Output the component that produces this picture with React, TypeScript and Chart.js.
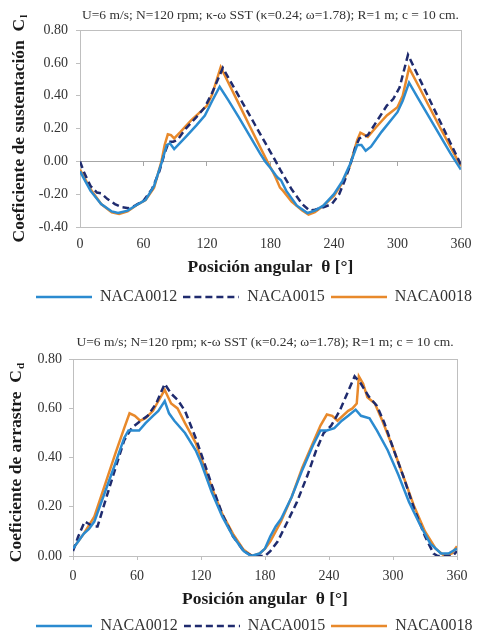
import React, { useEffect, useRef } from 'react';
import { Chart, registerables } from 'chart.js';

Chart.register(...registerables);
Chart.defaults.font.family = '"Liberation Serif", "Times New Roman", serif';

// ---------- Data ----------
const CHART_TITLE = 'U=6 m/s; N=120 rpm; κ-ω SST (κ=0.24; ω=1.78); R=1 m; c = 10 cm.';
const SERIES_NAMES = ['NACA0012', 'NACA0015', 'NACA0018'];
const X_TICKS = [0, 60, 120, 180, 240, 300, 360];
const LIFT_Y_TICKS = [-0.4, -0.2, 0, 0.2, 0.4, 0.6, 0.8];
const DRAG_Y_TICKS = [0, 0.2, 0.4, 0.6, 0.8];
const X_TITLE = 'Posición angular  θ [°]';
const LIFT_Y_TITLE = 'Coeficiente de sustentación  C';
const LIFT_Y_SUB = 'l';
const DRAG_Y_TITLE = 'Coeficiente de arrastre  C';
const DRAG_Y_SUB = 'd';

// Lift coefficient (top chart)
const liftTheta12 = [0, 5, 10, 20, 30, 36, 45, 55, 62, 70, 77, 82, 85, 89, 100, 110, 118, 125, 132, 140, 150, 160, 170, 175, 180, 185, 187, 190, 195, 205, 215, 222, 230, 240, 248, 255, 258, 262, 266, 270, 275, 285, 295, 300, 305, 311, 320, 330, 340, 350, 360];
const lift12 = [-0.06, -0.12, -0.18, -0.26, -0.305, -0.315, -0.3, -0.26, -0.235, -0.15, -0.01, 0.1, 0.11, 0.075, 0.15, 0.22, 0.28, 0.37, 0.455, 0.375, 0.27, 0.16, 0.05, 0.0, -0.04, -0.085, -0.1, -0.115, -0.18, -0.27, -0.315, -0.3, -0.27, -0.2, -0.12, -0.02, 0.03, 0.1, 0.1, 0.065, 0.09, 0.18, 0.26, 0.3, 0.37, 0.48, 0.38, 0.27, 0.16, 0.05, -0.05];

const liftTheta15 = [0, 4, 10, 16, 20, 26, 33, 40, 46, 52, 60, 68, 75, 80, 84, 88, 92, 100, 110, 118, 125, 135, 145, 155, 165, 175, 180, 185, 190, 200, 210, 217, 222, 230, 238, 245, 250, 255, 260, 264, 268, 272, 280, 290, 296, 302, 310, 320, 330, 340, 350, 360];
const lift15 = [0.0, -0.07, -0.15, -0.19, -0.195, -0.23, -0.26, -0.28, -0.285, -0.27, -0.24, -0.17, -0.06, 0.05, 0.12, 0.12, 0.13, 0.2, 0.27, 0.33, 0.42, 0.57, 0.456, 0.342, 0.228, 0.114, 0.057, 0.0, -0.06, -0.17, -0.26, -0.3, -0.295, -0.28, -0.26, -0.2, -0.12, -0.03, 0.08, 0.14, 0.15, 0.16, 0.24, 0.34, 0.38, 0.45, 0.65, 0.516, 0.382, 0.248, 0.114, -0.02];

const liftTheta18 = [0, 5, 10, 20, 30, 37, 45, 55, 62, 70, 77, 80, 83, 86, 89, 95, 105, 115, 120, 125, 133, 140, 150, 160, 170, 177, 182, 185, 189, 192, 200, 210, 216, 222, 230, 240, 248, 255, 258, 262, 265, 268, 272, 280, 290, 300, 305, 311, 320, 330, 340, 350, 360];
const lift18 = [-0.05, -0.11, -0.17, -0.26, -0.31, -0.32, -0.305, -0.26, -0.235, -0.16, 0.0, 0.1, 0.165, 0.16, 0.14, 0.18, 0.25, 0.31, 0.34, 0.41, 0.575, 0.483, 0.352, 0.22, 0.09, 0.0, -0.06, -0.1, -0.16, -0.18, -0.245, -0.3, -0.325, -0.31, -0.27, -0.21, -0.13, -0.03, 0.04, 0.13, 0.175, 0.165, 0.15, 0.21, 0.28, 0.33, 0.4, 0.57, 0.46, 0.335, 0.21, 0.09, -0.03];

// Drag coefficient (bottom chart)
const dragTheta12 = [0, 5, 10, 15, 20, 30, 40, 48, 52, 58, 62, 68, 75, 80, 86, 90, 95, 105, 115, 120, 130, 140, 150, 160, 167, 175, 180, 185, 190, 195, 205, 215, 225, 232, 238, 245, 252, 258, 265, 270, 278, 285, 295, 305, 315, 325, 335, 345, 352, 360];
const drag12 = [0.03, 0.06, 0.09, 0.11, 0.14, 0.26, 0.38, 0.48, 0.51, 0.51, 0.51, 0.54, 0.57, 0.59, 0.63, 0.58, 0.55, 0.5, 0.43, 0.38, 0.26, 0.16, 0.08, 0.02, 0.0, 0.01, 0.03, 0.08, 0.12, 0.15, 0.24, 0.35, 0.45, 0.51, 0.51, 0.52, 0.55, 0.57, 0.595, 0.57, 0.56, 0.51, 0.43, 0.33, 0.22, 0.13, 0.05, 0.01, 0.01, 0.03];

const dragTheta15 = [0, 5, 11, 15, 19, 23, 30, 40, 48, 55, 62, 70, 78, 86, 92, 98, 105, 115, 123, 130, 140, 150, 160, 168, 175, 180, 185, 192, 200, 210, 220, 228, 235, 242, 250, 258, 264, 270, 277, 285, 292, 300, 310, 320, 330, 338, 342, 350, 356, 360];
const drag15 = [0.02, 0.08, 0.14, 0.13, 0.12, 0.12, 0.22, 0.36, 0.47, 0.52, 0.545, 0.57, 0.62, 0.7, 0.66, 0.635, 0.59, 0.48, 0.38, 0.29, 0.17, 0.08, 0.02, 0.0, 0.0, 0.0, 0.02, 0.06, 0.13, 0.22, 0.33, 0.43, 0.5, 0.53, 0.59, 0.67, 0.73, 0.7, 0.65, 0.61, 0.54, 0.44, 0.32, 0.19, 0.08, 0.01, 0.0, 0.0, 0.0, 0.02];

const dragTheta18 = [0, 10, 20, 30, 40, 48, 53, 58, 63, 68, 75, 80, 86, 92, 98, 105, 115, 120, 130, 140, 150, 160, 168, 175, 180, 185, 190, 195, 205, 215, 225, 232, 238, 243, 248, 253, 258, 262, 266, 268, 272, 276, 283, 290, 300, 310, 320, 330, 340, 347, 355, 360];
const drag18 = [0.03, 0.09, 0.16, 0.29, 0.42, 0.52, 0.58, 0.57, 0.55, 0.56, 0.59, 0.63, 0.675, 0.62, 0.6, 0.54, 0.46, 0.4, 0.28, 0.17, 0.09, 0.025, 0.0, 0.01, 0.03, 0.06, 0.1, 0.14, 0.24, 0.36, 0.46, 0.53, 0.575, 0.57, 0.55, 0.57, 0.59, 0.6, 0.62, 0.73, 0.7, 0.645, 0.62, 0.55, 0.44, 0.32, 0.2, 0.1, 0.03, 0.005, 0.01, 0.04];

// ---------- Styling ----------
const COLORS = ['#2b8bd0', '#1f2b6e', '#e8892b'];
const DASHES: number[][] = [[], [7, 4], []];
const GRAY = '#bfbfbf';
const TEXT = '#333333';
const LEGEND_LINE_W = 56;

const zip = (t: number[], v: number[]) => t.map((x, i) => ({ x, y: v[i] }));

function lineImage(color: string, dash: number[]) {
  const c = document.createElement('canvas');
  c.width = LEGEND_LINE_W;
  c.height = 4;
  const g = c.getContext('2d');
  if (g) {
    g.strokeStyle = color;
    g.lineWidth = 2.5;
    g.setLineDash(dash);
    g.beginPath();
    g.moveTo(0, 2);
    g.lineTo(LEGEND_LINE_W, 2);
    g.stroke();
  }
  return c;
}

function makeDatasets(series: { x: number; y: number }[][]) {
  return series.map((data, i) => ({
    label: SERIES_NAMES[i],
    data,
    xAxisID: 'x',
    yAxisID: 'y',
    borderColor: COLORS[i],
    backgroundColor: COLORS[i],
    borderWidth: 2.5,
    borderDash: DASHES[i],
    pointRadius: 0,
    pointStyle: lineImage(COLORS[i], DASHES[i]),
    tension: 0,
    fill: false,
  }));
}

const boxPlugin = {
  id: 'plotBox',
  beforeDatasetsDraw(chart: any) {
    const { ctx, chartArea } = chart;
    ctx.save();
    ctx.strokeStyle = GRAY;
    ctx.lineWidth = 1;
    ctx.strokeRect(
      Math.round(chartArea.left) + 0.5,
      Math.round(chartArea.top) + 0.5,
      Math.round(chartArea.right - chartArea.left),
      Math.round(chartArea.bottom - chartArea.top)
    );
    ctx.restore();
  },
};

function yTitlePlugin(main: string, sub: string, cx: number, dy: number) {
  return {
    id: 'yTitleSub',
    afterDraw(chart: any) {
      const { ctx, chartArea } = chart;
      const mainFont = 'bold 17.5px "Liberation Serif", "Times New Roman", serif';
      const subFont = 'bold 11px "Liberation Serif", "Times New Roman", serif';
      ctx.save();
      ctx.font = mainFont;
      const w1 = ctx.measureText(main).width;
      ctx.font = subFont;
      const w2 = ctx.measureText(sub).width;
      const total = w1 + 1 + w2;
      const cy = (chartArea.top + chartArea.bottom) / 2 + dy;
      ctx.translate(cx, cy);
      ctx.rotate(-Math.PI / 2);
      ctx.fillStyle = '#1a1a1a';
      ctx.textAlign = 'left';
      ctx.textBaseline = 'middle';
      ctx.font = mainFont;
      ctx.fillText(main, -total / 2, 0);
      ctx.font = subFont;
      ctx.fillText(sub, -total / 2 + w1 + 1, 5);
      ctx.restore();
    },
  };
}

const setTicks = (vals: number[]) => (scale: any) => {
  scale.ticks = vals.map((value) => ({ value }));
};

const legendOptions = {
  position: 'bottom',
  labels: {
    usePointStyle: true,
    pointStyleWidth: LEGEND_LINE_W,
    padding: 6,
    color: TEXT,
    font: { size: 16 },
  },
};

const rightSpacer = (w: number) => ({
  type: 'linear',
  position: 'right',
  display: true,
  afterFit: (s: any) => { s.width = w; },
  ticks: { display: false },
  grid: { display: false },
  border: { display: false },
});

function liftConfig(): any {
  return {
    type: 'line',
    data: { datasets: makeDatasets([zip(liftTheta12, lift12), zip(liftTheta15, lift15), zip(liftTheta18, lift18)]) },
    options: {
      responsive: false,
      animation: false,
      devicePixelRatio: 1,
      layout: { padding: { left: 28, right: 0, top: 0, bottom: 0 } },
      plugins: {
        title: {
          display: true,
          text: CHART_TITLE,
          fullSize: false,
          color: TEXT,
          font: { size: 13.5, weight: 'normal' },
          padding: { top: 7, bottom: 7 },
        },
        legend: legendOptions,
        tooltip: { enabled: false },
      },
      scales: {
        x: {
          type: 'linear',
          position: 'bottom',
          min: 0,
          max: 360,
          afterBuildTicks: setTicks(X_TICKS),
          afterFit: (s: any) => { s.height = 56; },
          grid: { display: true, drawOnChartArea: false, drawTicks: false, color: GRAY },
          border: { display: true, color: GRAY },
          ticks: { padding: 8.6, color: TEXT, font: { size: 14 }, maxRotation: 0 },
          title: {
            display: true,
            text: X_TITLE,
            color: '#1a1a1a',
            font: { size: 17.5, weight: 'bold' },
            padding: { top: 0, bottom: 5.5 },
          },
        },
        xz: {
          type: 'linear',
          position: { y: 0 },
          min: 0,
          max: 360,
          afterBuildTicks: setTicks(X_TICKS),
          ticks: { display: false },
          grid: { display: true, drawOnChartArea: false, drawTicks: true, tickLength: 4, color: '#a6a6a6' },
          border: { display: true, color: '#a6a6a6' },
        },
        y: {
          type: 'linear',
          position: 'left',
          min: -0.4,
          max: 0.8,
          afterBuildTicks: setTicks(LIFT_Y_TICKS),
          afterFit: (s: any) => { s.width = 52; },
          grid: { display: true, drawOnChartArea: false, drawTicks: true, tickLength: 4, color: GRAY },
          border: { display: true, color: GRAY },
          ticks: { padding: 8, color: TEXT, font: { size: 14 }, callback: (v: any) => Number(v).toFixed(2) },
        },
        yr: rightSpacer(12),
      },
    },
    plugins: [boxPlugin, yTitlePlugin(LIFT_Y_TITLE, LIFT_Y_SUB, 19, 0)],
  };
}

function dragConfig(): any {
  return {
    type: 'line',
    data: { datasets: makeDatasets([zip(dragTheta12, drag12), zip(dragTheta15, drag15), zip(dragTheta18, drag18)]) },
    options: {
      responsive: false,
      animation: false,
      devicePixelRatio: 1,
      layout: { padding: { left: 29, right: 0, top: 0, bottom: 0 } },
      plugins: {
        title: {
          display: true,
          text: CHART_TITLE,
          fullSize: false,
          color: TEXT,
          font: { size: 13.5, weight: 'normal' },
          padding: { top: 23, bottom: 9 },
        },
        legend: legendOptions,
        tooltip: { enabled: false },
      },
      scales: {
        x: {
          type: 'linear',
          position: 'bottom',
          min: 0,
          max: 360,
          afterBuildTicks: setTicks(X_TICKS),
          afterFit: (s: any) => { s.height = 56; },
          grid: { display: true, drawOnChartArea: false, drawTicks: true, tickLength: 4, color: GRAY },
          border: { display: true, color: GRAY },
          ticks: { padding: 7.6, color: TEXT, font: { size: 14 }, maxRotation: 0 },
          title: {
            display: true,
            text: X_TITLE,
            color: '#1a1a1a',
            font: { size: 17.5, weight: 'bold' },
            padding: { top: 0, bottom: 2.5 },
          },
        },
        y: {
          type: 'linear',
          position: 'left',
          min: 0,
          max: 0.8,
          afterBuildTicks: setTicks(DRAG_Y_TICKS),
          afterFit: (s: any) => { s.width = 44; },
          grid: { display: true, drawOnChartArea: false, drawTicks: true, tickLength: 4, color: GRAY },
          border: { display: true, color: GRAY },
          ticks: { padding: 7, color: TEXT, font: { size: 14 }, callback: (v: any) => Number(v).toFixed(2) },
        },
        yr: rightSpacer(23),
      },
    },
    plugins: [boxPlugin, yTitlePlugin(DRAG_Y_TITLE, DRAG_Y_SUB, 16, 5)],
  };
}

function ChartCanvas({ makeConfig, top, height }: { makeConfig: () => any; top: number; height: number }) {
  const ref = useRef<HTMLCanvasElement | null>(null);
  useEffect(() => {
    if (!ref.current) return;
    const chart = new Chart(ref.current, makeConfig());
    return () => chart.destroy();
  }, [makeConfig]);
  return (
    <canvas
      ref={ref}
      width={480}
      height={height}
      style={{ position: 'absolute', left: 0, top, width: 480, height, display: 'block' }}
    />
  );
}

export default function App() {
  return (
    <div
      style={{
        position: 'absolute',
        left: 0,
        top: 0,
        width: 480,
        height: 635,
        overflow: 'hidden',
        background: '#ffffff',
      }}
    >
      <ChartCanvas makeConfig={liftConfig} top={0} height={315} />
      <ChartCanvas makeConfig={dragConfig} top={311} height={333} />
    </div>
  );
}
